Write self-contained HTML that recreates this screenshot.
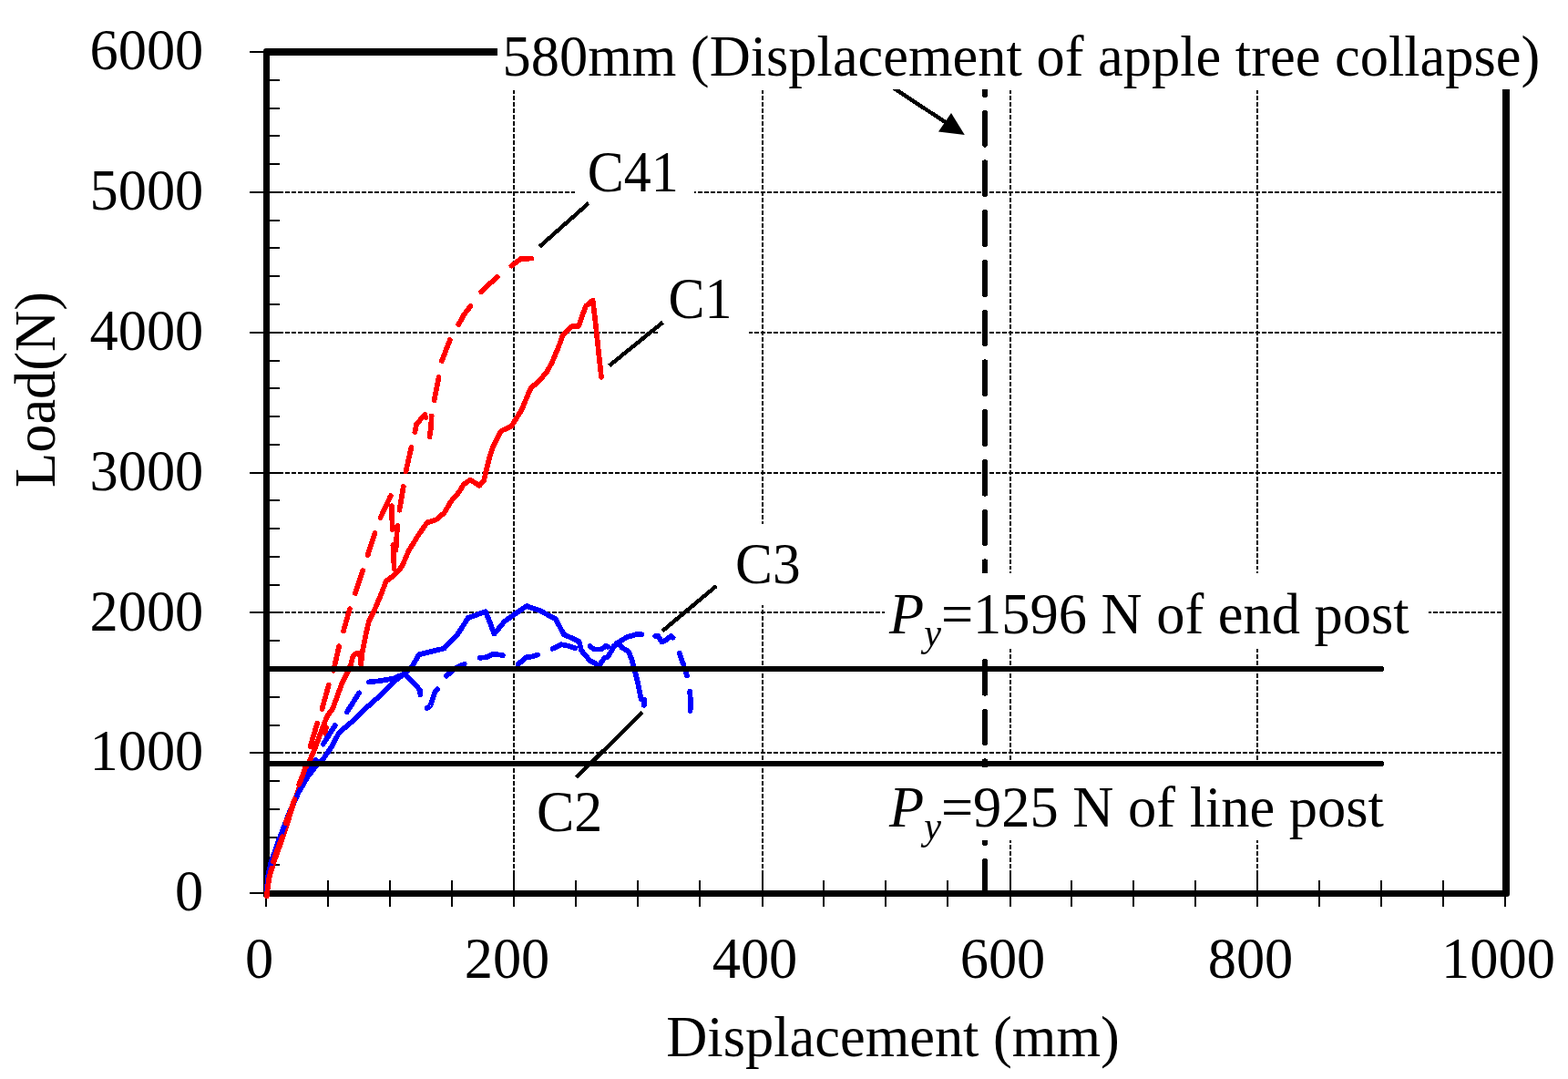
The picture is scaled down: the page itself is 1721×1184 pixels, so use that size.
<!DOCTYPE html>
<html lang="en"><head><meta charset="utf-8"><title>Load-Displacement</title>
<style>
html,body{margin:0;padding:0;background:#fff;}
body{width:1721px;height:1184px;overflow:hidden;}
svg{display:block;}
text{font-family:"Liberation Serif","Times New Roman",serif;font-size:62px;fill:#000;}
.g{stroke:#000;stroke-width:2;stroke-dasharray:4.96 2;fill:none;shape-rendering:crispEdges;}
.t{stroke:#000;stroke-width:2;fill:none;shape-rendering:crispEdges;}
.ax{fill:#000;stroke:none;shape-rendering:crispEdges;}
.ld{stroke:#000;stroke-width:4.4;fill:none;stroke-linecap:butt;shape-rendering:crispEdges;}
.hl{fill:#000;stroke:none;shape-rendering:crispEdges;}
.r{stroke:#f00;stroke-width:5.7;fill:none;stroke-linejoin:round;stroke-linecap:round;shape-rendering:crispEdges;}
.b{stroke:#00f;stroke-width:5.7;fill:none;stroke-linejoin:round;stroke-linecap:round;shape-rendering:crispEdges;}
.w{fill:#fff;stroke:none;shape-rendering:crispEdges;}
</style></head><body>
<svg width="1721" height="1184" viewBox="0 0 1721 1184">
<rect class="w" x="0" y="0" width="1721" height="1184"/>
<g class="g">
<line x1="299.47" y1="826.00" x2="1653.00" y2="826.00"/>
<line x1="299.47" y1="672.00" x2="1653.00" y2="672.00"/>
<line x1="299.47" y1="519.00" x2="1653.00" y2="519.00"/>
<line x1="299.47" y1="365.00" x2="1653.00" y2="365.00"/>
<line x1="299.47" y1="211.00" x2="1653.00" y2="211.00"/>
<line x1="564.00" y1="56.74" x2="564.00" y2="980.00"/>
<line x1="837.00" y1="56.74" x2="837.00" y2="980.00"/>
<line x1="1109.00" y1="56.74" x2="1109.00" y2="980.00"/>
<line x1="1380.00" y1="56.74" x2="1380.00" y2="980.00"/>
</g>
<g class="t">
<line x1="274.00" y1="980.00" x2="310.00" y2="980.00"/>
<line x1="292.00" y1="949.00" x2="307.00" y2="949.00"/>
<line x1="292.00" y1="919.00" x2="307.00" y2="919.00"/>
<line x1="292.00" y1="888.00" x2="307.00" y2="888.00"/>
<line x1="292.00" y1="857.00" x2="307.00" y2="857.00"/>
<line x1="274.00" y1="826.00" x2="310.00" y2="826.00"/>
<line x1="292.00" y1="796.00" x2="307.00" y2="796.00"/>
<line x1="292.00" y1="765.00" x2="307.00" y2="765.00"/>
<line x1="292.00" y1="734.00" x2="307.00" y2="734.00"/>
<line x1="292.00" y1="703.00" x2="307.00" y2="703.00"/>
<line x1="274.00" y1="672.00" x2="310.00" y2="672.00"/>
<line x1="292.00" y1="642.00" x2="307.00" y2="642.00"/>
<line x1="292.00" y1="611.00" x2="307.00" y2="611.00"/>
<line x1="292.00" y1="580.00" x2="307.00" y2="580.00"/>
<line x1="292.00" y1="549.00" x2="307.00" y2="549.00"/>
<line x1="274.00" y1="519.00" x2="310.00" y2="519.00"/>
<line x1="292.00" y1="488.00" x2="307.00" y2="488.00"/>
<line x1="292.00" y1="457.00" x2="307.00" y2="457.00"/>
<line x1="292.00" y1="426.00" x2="307.00" y2="426.00"/>
<line x1="292.00" y1="396.00" x2="307.00" y2="396.00"/>
<line x1="274.00" y1="365.00" x2="310.00" y2="365.00"/>
<line x1="292.00" y1="334.00" x2="307.00" y2="334.00"/>
<line x1="292.00" y1="303.00" x2="307.00" y2="303.00"/>
<line x1="292.00" y1="272.00" x2="307.00" y2="272.00"/>
<line x1="292.00" y1="242.00" x2="307.00" y2="242.00"/>
<line x1="274.00" y1="211.00" x2="310.00" y2="211.00"/>
<line x1="292.00" y1="180.00" x2="307.00" y2="180.00"/>
<line x1="292.00" y1="149.00" x2="307.00" y2="149.00"/>
<line x1="292.00" y1="119.00" x2="307.00" y2="119.00"/>
<line x1="292.00" y1="88.00" x2="307.00" y2="88.00"/>
<line x1="274.00" y1="57.00" x2="310.00" y2="57.00"/>
<line x1="292.00" y1="956.00" x2="292.00" y2="995.00"/>
<line x1="360.00" y1="966.00" x2="360.00" y2="995.00"/>
<line x1="428.00" y1="966.00" x2="428.00" y2="995.00"/>
<line x1="496.00" y1="966.00" x2="496.00" y2="995.00"/>
<line x1="564.00" y1="956.00" x2="564.00" y2="995.00"/>
<line x1="632.00" y1="966.00" x2="632.00" y2="995.00"/>
<line x1="700.00" y1="966.00" x2="700.00" y2="995.00"/>
<line x1="768.00" y1="966.00" x2="768.00" y2="995.00"/>
<line x1="837.00" y1="956.00" x2="837.00" y2="995.00"/>
<line x1="904.00" y1="966.00" x2="904.00" y2="995.00"/>
<line x1="972.00" y1="966.00" x2="972.00" y2="995.00"/>
<line x1="1040.00" y1="966.00" x2="1040.00" y2="995.00"/>
<line x1="1109.00" y1="956.00" x2="1109.00" y2="995.00"/>
<line x1="1176.00" y1="966.00" x2="1176.00" y2="995.00"/>
<line x1="1244.00" y1="966.00" x2="1244.00" y2="995.00"/>
<line x1="1312.00" y1="966.00" x2="1312.00" y2="995.00"/>
<line x1="1380.00" y1="956.00" x2="1380.00" y2="995.00"/>
<line x1="1448.00" y1="966.00" x2="1448.00" y2="995.00"/>
<line x1="1516.00" y1="966.00" x2="1516.00" y2="995.00"/>
<line x1="1584.00" y1="966.00" x2="1584.00" y2="995.00"/>
<line x1="1652.00" y1="956.00" x2="1652.00" y2="995.00"/>
</g>
<g class="ax">
<rect x="289" y="53" width="7" height="931"/>
<rect x="289" y="53" width="1368" height="8"/>
<rect x="1649" y="53" width="8" height="931"/>
<rect x="289" y="977" width="1368" height="7"/>
</g>
<path class="w" d="M289 53 h3 a3 3 0 0 0 -3 3 Z M1657 984 h-3 a3 3 0 0 0 3 -3 Z" style="shape-rendering:auto"/>
<path d="M1081.00 68.86 V103.86 M1081.00 123.60 V158.60 M1081.00 178.34 V213.34 M1081.00 233.08 V268.08 M1081.00 287.82 V322.82 M1081.00 342.56 V377.56 M1081.00 397.30 V432.30 M1081.00 452.04 V487.04 M1081.00 506.78 V541.78 M1081.00 561.52 V596.52 M1081.00 616.26 V651.26 M1081.00 671.00 V706.00 M1081.00 725.74 V760.74 M1081.00 780.48 V815.48 M1081.00 835.22 V870.22 M1081.00 889.96 V924.96 M1081.00 944.70 V977.00" stroke="#000" stroke-width="6" stroke-linecap="round" fill="none" shape-rendering="crispEdges"/>
<line class="ld" x1="967.75" y1="88" x2="1040" y2="135.7"/>
<path d="M1058.8 148.1 L1030 144.4 L1044 124 Z" fill="#000"/>
<rect class="w" x="546.00" y="20.00" width="1175.00" height="78.00"/>
<rect class="w" x="631.00" y="160.00" width="131.00" height="62.00"/>
<rect class="w" x="722.50" y="300.00" width="99.50" height="80.00"/>
<rect class="w" x="795.00" y="575.00" width="100.00" height="89.00"/>
<rect class="w" x="575.00" y="860.00" width="100.00" height="62.00"/>
<rect class="w" x="971.00" y="629.00" width="597.00" height="83.00"/>
<rect class="w" x="971.00" y="842.00" width="570.00" height="80.00"/>
<text transform="translate(223.30 999.30) scale(1.007 1.037)" text-anchor="end">0</text>
<text transform="translate(223.30 845.47) scale(1.007 1.037)" text-anchor="end">1000</text>
<text transform="translate(223.30 691.63) scale(1.007 1.037)" text-anchor="end">2000</text>
<text transform="translate(223.30 537.80) scale(1.007 1.037)" text-anchor="end">3000</text>
<text transform="translate(223.30 383.97) scale(1.007 1.037)" text-anchor="end">4000</text>
<text transform="translate(223.30 230.13) scale(1.007 1.037)" text-anchor="end">5000</text>
<text transform="translate(223.30 76.30) scale(1.007 1.037)" text-anchor="end">6000</text>
<text transform="translate(284.50 1072.50) scale(1.007 1.037)" text-anchor="middle">0</text>
<text transform="translate(556.50 1072.50) scale(1.007 1.037)" text-anchor="middle">200</text>
<text transform="translate(828.50 1072.50) scale(1.007 1.037)" text-anchor="middle">400</text>
<text transform="translate(1100.50 1072.50) scale(1.007 1.037)" text-anchor="middle">600</text>
<text transform="translate(1372.50 1072.50) scale(1.007 1.037)" text-anchor="middle">800</text>
<text transform="translate(1644.50 1072.50) scale(1.007 1.037)" text-anchor="middle">1000</text>
<text transform="translate(980.00 1158.80) scale(1.007 1.037)" text-anchor="middle">Displacement (mm)</text>
<text transform="translate(60 427.5) rotate(-90) scale(1.007 1.037)" text-anchor="middle">Load(N)</text>
<text transform="translate(551.50 82.50) scale(1.007 1.037)">580mm (Displacement of apple tree collapse)</text>
<text transform="translate(644.80 210.30) scale(0.967 1.037)">C41</text>
<text transform="translate(733.40 349.00) scale(0.967 1.037)">C1</text>
<text transform="translate(807.00 640.00) scale(0.990 1.037)">C3</text>
<text transform="translate(589.00 912.00) scale(1.000 1.037)">C2</text>
<text transform="translate(976 694.8) scale(1.007 1.037)"><tspan font-style="italic">P</tspan><tspan font-style="italic" font-size="42" dy="13.5">y</tspan><tspan dy="-13.5">=1596 N of end post</tspan></text>
<text transform="translate(976 907) scale(1.007 1.037)"><tspan font-style="italic">P</tspan><tspan font-style="italic" font-size="42" dy="13.5">y</tspan><tspan dy="-13.5">=925 N of line post</tspan></text>
<g class="ld">
<line x1="646" y1="223" x2="592" y2="270.8"/>
<line x1="727.5" y1="353.7" x2="668.8" y2="401.2"/>
<line x1="786.2" y1="643" x2="727" y2="692.5"/>
<line x1="705" y1="781.9" x2="632.5" y2="853.1"/>
</g>
<path class="r" d="M292.5 981.0 L296.0 961.0 L300.5 946.0 L308.5 924.0 L314.5 906.0 L320.5 887.0 L326.5 870.0 L333.0 851.0 L340.0 834.5 L345.0 823.0 L350.0 809.5 L353.8 799.5 L357.0 791.0 L360.0 784.5 L365.0 778.0 L370.0 764.5 L375.0 750.8 L380.0 740.8 L385.0 729.5 L387.5 719.5 L391.0 717.0 L395.0 716.4 L396.2 729.5 L397.5 717.0 L400.0 704.5 L402.5 692.0 L405.0 681.5 L411.2 669.0 L417.5 654.0 L423.8 637.8 L433.8 630.2 L441.2 621.5 L448.8 604.0 L458.8 587.8 L468.8 573.4 L478.8 570.2 L487.5 562.8 L495.0 550.2 L503.8 540.0 L508.8 531.6 L516.2 526.6 L526.2 532.9 L531.2 527.2 L533.1 518.5 L537.5 501.0 L541.2 489.8 L550.0 472.9 L561.2 467.9 L572.5 449.8 L582.5 426.0 L591.2 418.5 L600.0 408.5 L606.2 397.0 L612.5 382.0 L618.1 367.0 L627.5 358.2 L635.0 358.0 L638.8 347.0 L643.1 335.8 L650.6 329.5 L653.1 349.5 L660.0 414.0 M357.2 805 L357.8 798"/>
<path class="b" d="M292.5 981.0 L294.0 962.0 L297.3 947.0 L304.8 925.0 L311.0 909.0 L318.6 889.0 L327.5 870.0 L338.0 852.0 L349.0 838.0 L353.9 834.0 L363.9 819.6 L372.1 803.9 L376.5 800.2 L390.3 788.5 L395.3 783.4 L402.8 776.0 L407.5 772.0 L414.1 766.0 L420.1 760.2 L432.6 747.8 L445.2 738.2 L452.5 730.8 L460.0 718.2 L487.5 711.5 L502.5 695.6 L513.8 678.0 L523.8 674.4 L533.1 671.2 L542.5 695.6 L553.8 681.9 L565.0 673.8 L578.1 665.0 L592.5 670.0 L610.0 679.4 L618.8 696.2 L635.6 703.8 L638.1 713.8 L647.5 725.0 L657.5 730.3 L663.5 722.0 L667.5 720.5 L674.0 708.8 L679.0 706.5 L682.5 710.6 L690.0 715.0 L693.8 725.0 L700.0 748.8 L703.8 767.5 L707.5 768.0 L706.9 774.0"/>
<path class="b" d="M297.5 946.4 L302.5 931.6 M333.8 856.5 L346.7 834.0 M354.7 816.6 L367.8 795.9 M380.9 781.2 L394.1 760.4 M404.9 748.4 L415.7 747.3 L431.4 744.7 L443.8 739.5 L451.5 747.0 L457.7 753.2 L460.9 757.6 L461.4 762.3 M468.9 777.0 L472.5 774.5 L477.5 759.5 L480.0 756.3 M490.0 741.8 L498.8 733.8 L509.7 728.7 M526.7 721.9 L533.8 721.2 L541.2 717.5 L552.1 719.1 M568.8 728.9 L577.5 721.2 L583.8 720.6 L590.3 718.5 M606.5 711.8 L616.2 707.2 L623.8 708.8 L631.5 711.4 M647.6 709.1 L651.9 712.5 L660.0 712.5 L665.0 708.8 L667.0 709.7 M676.5 706.1 L682.5 702.5 L687.5 699.4 L700.0 695.6 L704.5 696.1 M719.2 698.0 L722.5 698.0 L726.2 704.4 L731.2 702.5 L736.2 698.0 L738.6 699.6 M745.6 716.6 L750.0 728.8 L753.9 741.4 M757.1 758.6 L758.1 770.0 L757.6 780.2"/>
<path class="r" d="M292.7 983.3 L295.5 962.0 L298.1 952.6 M300.1 945.4 L305.0 931.0 L309.9 918.1 M313.6 902.9 L318.8 890.0 L323.4 877.1 M328.1 860.9 L332.5 850.0 L336.0 839.6 M340.5 819.1 L348.3 793.6 M353.5 777.9 L360.8 751.6 M366.0 735.9 L372.1 709.3 M377.0 692.4 L383.9 668.1 M389.9 651.1 L398.2 626.2 M403.6 609.3 L411.4 585.0 M417.6 568.0 L428.8 544.1 M430.0 555.1 L430.6 581.0 M431.3 598.2 L432.7 624.3 M434.5 603.5 L436.1 577.0 M438.4 559.8 L442.8 533.9 M445.4 517.4 L451.5 490.8 M455.3 474.3 L456.9 466.0 L466.2 454.8 L467.4 458.1 M473.7 456.5 L473.1 468.5 L471.5 479.3 M476.6 439.3 L481.6 413.9 M485.0 396.0 L493.8 373.0 M503.3 356.1 L509.4 345.1 L516.5 335.9 M528.1 320.2 L537.5 311.4 L545.7 303.8 M561.4 291.6 L571.9 283.9 L583.3 283.6"/>
<path d="M292 734 H1516.5 M292 838 H1516.5" stroke="#000" stroke-width="6" stroke-linecap="round" fill="none" shape-rendering="crispEdges"/>
</svg>
</body></html>
